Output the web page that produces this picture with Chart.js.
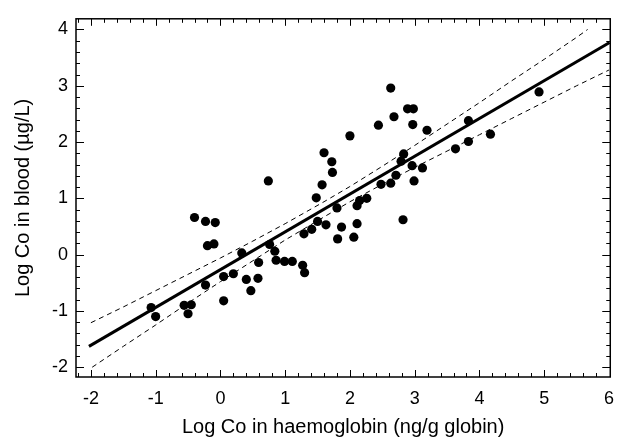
<!DOCTYPE html>
<html>
<head>
<meta charset="utf-8">
<script src="https://cdn.jsdelivr.net/npm/chart.js@4.4.0/dist/chart.umd.min.js"></script>
<style>
  html, body { margin: 0; padding: 0; background: #fff; }
</style>
</head>
<body>
<canvas id="grafico" width="625" height="440"></canvas>
<script>
// Puntos
const puntosX = [-1.07, -1.00, -0.56, -0.45, -0.50, -0.40, -0.23, -0.08, -0.20, -0.10,
  -0.23, 0.05, 0.05, 0.20, 0.33, 0.40, 0.47, 0.58, 0.59, 0.74,
  0.76, 0.84, 0.86, 0.99, 1.11, 1.27, 1.30, 1.29, 1.41, 1.48,
  1.50, 1.57, 1.60, 1.63, 1.72, 1.73, 1.80, 1.81, 1.87, 2.00,
  2.06, 2.11, 2.11, 2.15, 2.26, 2.44, 2.48, 2.63, 2.63, 2.68,
  2.71, 2.79, 2.82, 2.83, 2.89, 2.96, 2.97, 2.98, 2.99, 3.12,
  3.19, 3.63, 3.83, 3.83, 4.17, 4.92];
const puntosY = [-0.94, -1.10, -0.90, -0.89, -1.05, 0.66, 0.59, 0.57, 0.16, 0.19,
  -0.54, -0.39, -0.82, -0.34, 0.03, -0.44, -0.64, -0.42, -0.14, 1.31,
  0.18, 0.06, -0.10, -0.12, -0.12, -0.19, -0.32, 0.37, 0.45, 1.01,
  0.59, 1.24, 1.81, 0.53, 1.65, 1.46, 0.83, 0.28, 0.49, 2.11,
  0.31, 0.55, 0.87, 0.96, 1.00, 2.30, 1.25, 1.27, 2.96, 2.45,
  1.41, 1.66, 0.62, 1.79, 2.59, 1.58, 2.31, 2.59, 1.31, 1.54,
  2.21, 1.88, 2.01, 2.38, 2.14, 2.89];

// Recta de regresión
const rectaX = [-2.03, 6.01];
const rectaY = [-1.63, 3.77];

// Bandas de confianza (discontinuas)
const bandaSupX = [-2, -1.5, -1, -0.5, 0, 0.5, 1, 1.6, 2, 2.5, 3, 3.5, 4, 4.5, 5, 5.5, 5.67];
const bandaSupY = [-1.21, -0.93, -0.64, -0.35, -0.06, 0.24, 0.55, 0.94, 1.21, 1.57, 1.94, 2.32, 2.70, 3.09, 3.47, 3.86, 4.0];
const bandaInfX = [-1.98, -1.5, -1, -0.5, 0, 0.5, 1, 1.6, 2, 2.5, 3, 3.5, 4, 4.5, 5, 5.5, 6];
const bandaInfY = [-2.0, -1.63, -1.25, -0.86, -0.48, -0.11, 0.26, 0.67, 0.94, 1.25, 1.55, 1.84, 2.13, 2.42, 2.71, 3.00, 3.28];

// Marcas de los ejes
const ticksX = [-2, -1, 0, 1, 2, 3, 4, 5, 6];
const ticksY = [-2, -1, 0, 1, 2, 3, 4];

const fuente = 'Liberation Sans, Arial, sans-serif';
const aPuntos = (xs, ys) => xs.map((x, i) => ({ x: x, y: ys[i] }));

// Marco y marcas menores hacia dentro en los cuatro lados
const marco = {
  id: 'marco',
  afterDraw(chart) {
    const { ctx, chartArea: a, scales: { x, y } } = chart;
    ctx.save();
    ctx.strokeStyle = '#000';
    ctx.lineWidth = 1;
    ctx.beginPath();
    for (let i = -12; i <= 31; i++) {
      const v = i / 5;
      const px = Math.round(x.getPixelForValue(v)) + 0.5;
      if (px < a.left + 1 || px > a.right - 1) continue;
      const len = (i % 5 === 0) ? 7 : 4;
      ctx.moveTo(px, a.bottom); ctx.lineTo(px, a.bottom - len);
      ctx.moveTo(px, a.top); ctx.lineTo(px, a.top + len);
    }
    for (let i = -11; i <= 21; i++) {
      const v = i / 5;
      const py = Math.round(y.getPixelForValue(v)) + 0.5;
      if (py < a.top + 1 || py > a.bottom - 1) continue;
      const len = (i % 5 === 0) ? 8 : 4;
      ctx.moveTo(a.left, py); ctx.lineTo(a.left + len, py);
      ctx.moveTo(a.right, py); ctx.lineTo(a.right - len, py);
    }
    ctx.stroke();
    ctx.lineWidth = 1.5;
    ctx.strokeRect(a.left, a.top, a.right - a.left, a.bottom - a.top);
    ctx.restore();
  }
};

new Chart(document.getElementById('grafico'), {
  type: 'scatter',
  data: {
    datasets: [
      {
        data: aPuntos(bandaSupX, bandaSupY),
        showLine: true, borderColor: '#000', borderWidth: 1, borderDash: [5, 4],
        pointRadius: 0, fill: false
      },
      {
        data: aPuntos(bandaInfX, bandaInfY),
        showLine: true, borderColor: '#000', borderWidth: 1, borderDash: [5, 4],
        pointRadius: 0, fill: false
      },
      {
        data: aPuntos(rectaX, rectaY),
        showLine: true, borderColor: '#000', borderWidth: 3,
        pointRadius: 0, fill: false
      },
      {
        data: aPuntos(puntosX, puntosY),
        backgroundColor: '#000', borderColor: '#000',
        pointRadius: 4.6, borderWidth: 0
      }
    ]
  },
  options: {
    responsive: false,
    animation: false,
    layout: { padding: { top: 11, right: 11, left: 0, bottom: 0 } },
    plugins: { legend: { display: false }, tooltip: { enabled: false } },
    scales: {
      x: {
        type: 'linear', min: -2.23, max: 6.02,
        afterBuildTicks: s => { s.ticks = ticksX.map(v => ({ value: v })); },
        afterFit: s => { s.height = 63; },
        grid: { display: false, drawTicks: false },
        border: { display: false },
        ticks: { color: '#000', padding: 11, maxRotation: 0, font: { family: fuente, size: 18 } },
        title: {
          display: true, text: 'Log Co in haemoglobin (ng/g globin)', color: '#000',
          font: { family: fuente, size: 20 }, padding: { top: 0, bottom: 1 }
        }
      },
      y: {
        type: 'linear', min: -2.174, max: 4.19,
        afterBuildTicks: s => { s.ticks = ticksY.map(v => ({ value: v })); },
        afterFit: s => { s.width = 76; },
        grid: { display: false, drawTicks: false },
        border: { display: false },
        ticks: { color: '#000', padding: 8, font: { family: fuente, size: 18 } },
        title: {
          display: true, text: 'Log Co in blood (µg/L)', color: '#000',
          font: { family: fuente, size: 20 }, padding: { top: 11, bottom: 0 }
        }
      }
    }
  },
  plugins: [marco]
});
</script>
</body>
</html>
